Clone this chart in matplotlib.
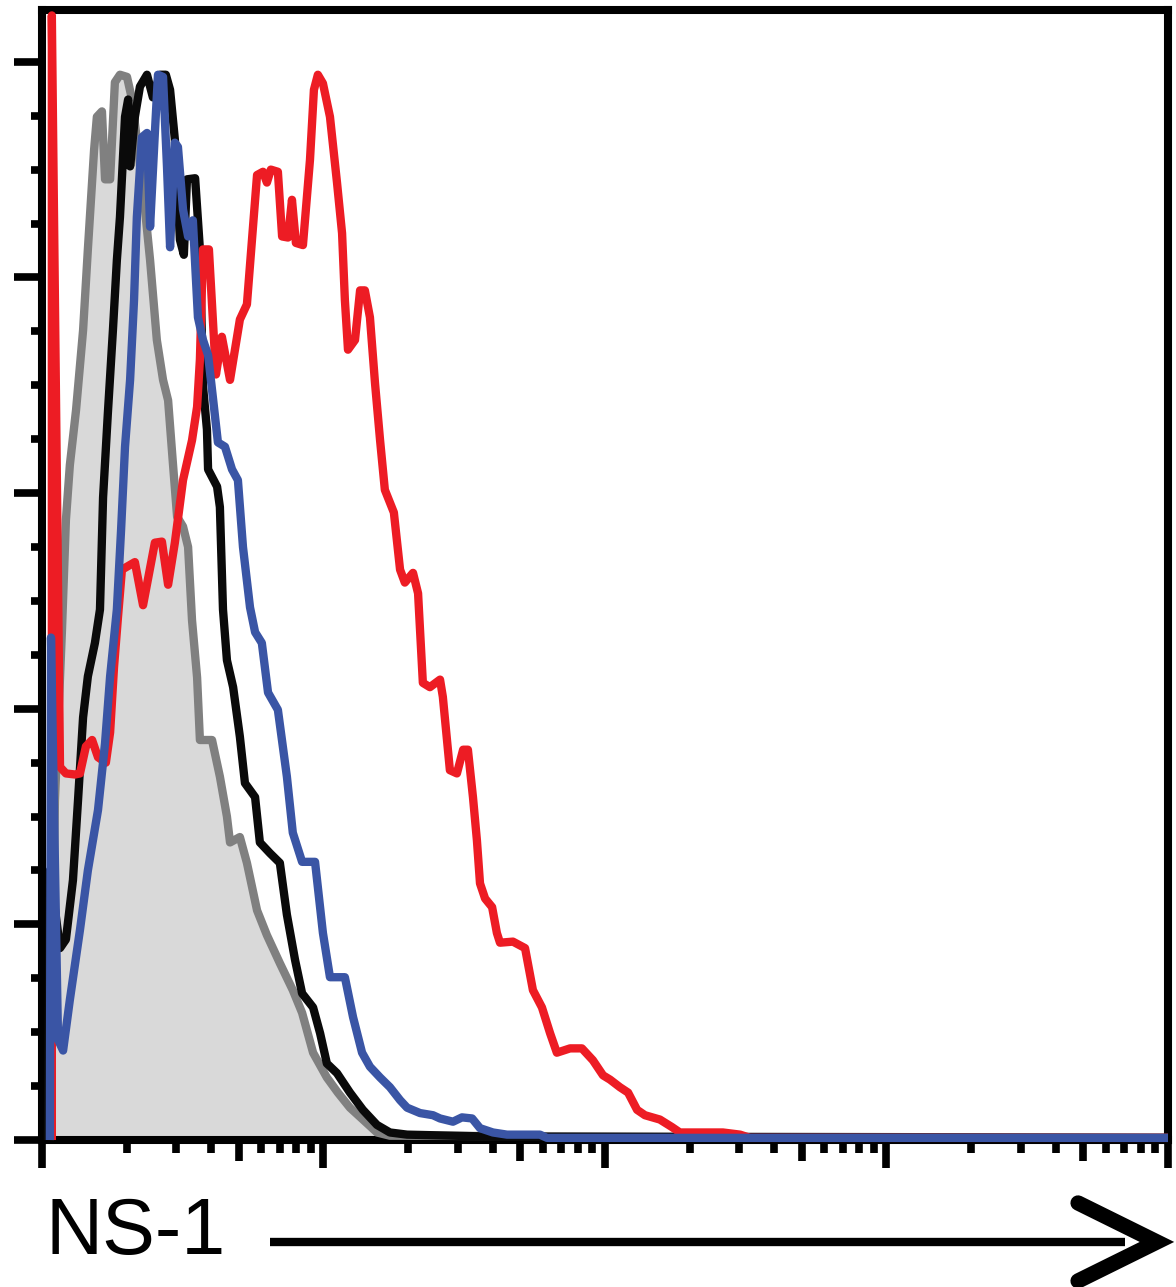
import matplotlib

matplotlib.use("Agg")
import matplotlib.pyplot as plt
import numpy as np
from matplotlib.lines import Line2D
from matplotlib.ticker import FixedLocator, NullFormatter, NullLocator

plt.rcParams["font.family"] = ["Liberation Sans", "DejaVu Sans"]

# NS-1 histograms: log10 fluorescence intensity vs % of max
gray_logx = [0.028, 0.046, 0.071, 0.085, 0.099, 0.121, 0.146, 0.163, 0.185, 0.195, 0.213,
             0.224, 0.242, 0.259, 0.277, 0.302, 0.320, 0.337, 0.359, 0.384, 0.408, 0.430,
             0.448, 0.465, 0.480, 0.501, 0.519, 0.533, 0.551, 0.561, 0.604, 0.632, 0.657,
             0.668, 0.703, 0.728, 0.764, 0.799, 0.845, 0.891, 0.924, 0.963, 1.012, 1.051,
             1.094, 1.140, 1.190, 1.236, 4.0]
gray_pct = [0.0, 31.5, 47.3, 57.5, 62.6, 67.7, 75.1, 82.6, 91.8, 94.9, 95.4,
            89.1, 89.1, 98.1, 98.8, 98.6, 96.5, 92.8, 88.1, 81.6, 74.2, 70.5,
            68.6, 62.8, 57.8, 56.9, 55.0, 48.2, 42.9, 37.1, 37.1, 33.7, 30.0,
            27.6, 28.1, 25.7, 21.3, 19.0, 16.4, 13.9, 11.8, 8.1, 5.8, 4.4,
            3.0, 1.9, 0.7, 0.4, 0.2]

black_logx = [0.021, 0.028, 0.064, 0.085, 0.110, 0.128, 0.146, 0.163, 0.188, 0.206, 0.217,
              0.234, 0.252, 0.266, 0.277, 0.295, 0.306, 0.313, 0.330, 0.348, 0.373, 0.394,
              0.419, 0.440, 0.455, 0.472, 0.490, 0.504, 0.515, 0.544, 0.561, 0.572, 0.586,
              0.590, 0.622, 0.632, 0.643, 0.657, 0.679, 0.703, 0.721, 0.757, 0.774, 0.810,
              0.845, 0.870, 0.899, 0.924, 0.963, 0.988, 1.012, 1.048, 1.094, 1.140, 1.190,
              1.236, 1.297, 1.627, 4.0]
black_pct = [0.0, 25.0, 17.8, 18.6, 24.1, 31.5, 39.2, 43.0, 46.1, 49.2, 59.6,
             67.4, 75.1, 81.6, 85.6, 94.9, 96.5, 90.3, 94.9, 97.7, 98.8, 96.7,
             98.8, 98.8, 97.4, 92.8, 83.5, 82.1, 89.1, 89.2, 82.6, 69.9, 65.9,
             62.2, 60.6, 58.7, 49.2, 44.5, 42.0, 37.4, 33.1, 31.8, 27.6, 26.6,
             25.7, 20.9, 16.7, 13.6, 12.3, 9.9, 7.1, 6.2, 4.4, 2.8, 1.4,
             0.7, 0.5, 0.3, 0.2]

red_logx = [0.035, 0.035, 0.064, 0.085, 0.117, 0.135, 0.156, 0.178, 0.199, 0.227, 0.242,
            0.256, 0.270, 0.284, 0.330, 0.359, 0.401, 0.426, 0.448, 0.472, 0.501, 0.533,
            0.551, 0.561, 0.572, 0.593, 0.618, 0.639, 0.668, 0.703, 0.728, 0.764, 0.785,
            0.799, 0.813, 0.838, 0.853, 0.874, 0.888, 0.902, 0.927, 0.952, 0.966, 0.980,
            0.998, 1.023, 1.048, 1.066, 1.076, 1.087, 1.112, 1.130, 1.147, 1.165, 1.183,
            1.201, 1.218, 1.250, 1.272, 1.289, 1.318, 1.336, 1.353, 1.378, 1.414, 1.424,
            1.449, 1.474, 1.496, 1.513, 1.531, 1.545, 1.556, 1.574, 1.599, 1.616, 1.627,
            1.673, 1.716, 1.744, 1.776, 1.805, 1.829, 1.876, 1.918, 1.957, 1.993, 2.018,
            2.053, 2.082, 2.114, 2.142, 2.195, 2.238, 2.266, 2.419, 2.480, 2.515, 4.0]
red_pct = [0.0, 104.3, 34.6, 34.0, 33.9, 34.0, 36.5, 37.1, 35.5, 35.0, 37.8,
           43.9, 48.5, 52.9, 53.6, 49.6, 55.4, 55.5, 51.5, 55.4, 61.2, 64.9,
           68.0, 72.4, 82.6, 82.6, 71.0, 74.5, 70.5, 76.1, 77.5, 89.5, 89.8,
           88.8, 90.0, 89.8, 83.8, 83.7, 87.2, 83.2, 83.0, 90.9, 97.4, 98.8,
           98.0, 94.9, 88.8, 84.1, 77.9, 73.3, 74.2, 78.8, 78.8, 76.3, 70.2,
           64.9, 60.3, 58.2, 52.9, 51.7, 52.6, 50.7, 42.4, 42.0, 42.7, 41.1,
           34.3, 34.0, 36.2, 36.2, 31.8, 27.8, 23.8, 22.4, 21.6, 19.2, 18.3,
           18.4, 17.8, 13.9, 12.3, 9.9, 8.1, 8.5, 8.5, 7.4, 6.0, 5.6,
           4.9, 4.4, 2.8, 2.3, 1.9, 1.2, 0.7, 0.7, 0.5, 0.2, 0.2]

blue_logx = [0.028, 0.032, 0.057, 0.075, 0.099, 0.135, 0.163, 0.199, 0.224, 0.242, 0.266,
             0.281, 0.295, 0.313, 0.327, 0.337, 0.355, 0.373, 0.384, 0.401, 0.412, 0.430,
             0.444, 0.455, 0.472, 0.483, 0.501, 0.519, 0.536, 0.554, 0.572, 0.590, 0.607,
             0.625, 0.650, 0.675, 0.696, 0.714, 0.739, 0.757, 0.781, 0.803, 0.838, 0.870,
             0.891, 0.924, 0.970, 0.998, 1.023, 1.076, 1.105, 1.137, 1.165, 1.201, 1.236,
             1.272, 1.297, 1.343, 1.389, 1.414, 1.460, 1.492, 1.528, 1.556, 1.602, 1.652,
             1.769, 1.794, 4.0]
blue_pct = [0.0, 46.6, 9.3, 8.3, 13.0, 19.5, 25.0, 30.6, 36.8, 43.0, 49.2,
            56.6, 64.3, 70.5, 77.9, 85.6, 93.0, 93.4, 84.7, 93.4, 98.8, 98.6,
            90.3, 82.8, 92.5, 92.1, 86.3, 83.8, 85.3, 76.3, 74.2, 72.8, 68.9,
            64.7, 64.3, 62.2, 61.2, 55.0, 49.4, 47.1, 46.1, 41.5, 39.9, 33.7,
            28.5, 25.8, 25.8, 19.2, 15.1, 15.1, 11.4, 8.1, 6.8, 5.8, 4.9,
            3.7, 3.0, 2.5, 2.3, 2.0, 1.7, 2.1, 2.0, 1.1, 0.7, 0.5,
            0.5, 0.2, 0.2]

y_major = [0, 20, 40, 60, 80, 100]
y_minor = [v for v in range(0, 101, 5) if v % 20]
x_major = [1, 10, 100, 1000, 10000]
x_mid = [5, 50, 500, 5000]
x_minor = [m * 10 ** d for d in range(4) for m in (2, 3, 4, 6, 7, 8, 9)]

LW = 6.0
SPINE_W = 5.8

fig = plt.figure(figsize=(11.76, 12.87), dpi=100)
ax = fig.add_axes([0.0357, 0.1142, 0.9575, 0.878])

ax.fill_between(10 ** np.array(gray_logx), gray_pct, 0, color="#d9d9d9", lw=0, zorder=1)
curves = [
    (gray_logx, gray_pct, "#808080"),
    (black_logx, black_pct, "#0a0a0a"),
    (red_logx, red_pct, "#ed1c24"),
    (blue_logx, blue_pct, "#3a55a5"),
]
for i, (lx, pct, color) in enumerate(curves):
    ax.plot(10 ** np.array(lx), pct, color=color, lw=LW, zorder=3 + i,
            clip_on=False, solid_capstyle="butt", solid_joinstyle="round")

ax.set_xscale("log")
ax.set_xlim(1, 10000)
ax.set_ylim(0, 104.8)

for side in ("left", "right", "top", "bottom"):
    ax.spines[side].set_linewidth(SPINE_W)
    ax.spines[side].set_color("black")

ax.yaxis.set_major_locator(FixedLocator(y_major))
ax.yaxis.set_minor_locator(FixedLocator(y_minor))
ax.xaxis.set_major_locator(FixedLocator(x_major))
ax.xaxis.set_minor_locator(FixedLocator(x_minor))
ax.xaxis.set_major_formatter(NullFormatter())
ax.xaxis.set_minor_formatter(NullFormatter())
ax.yaxis.set_major_formatter(NullFormatter())
ax.yaxis.set_minor_formatter(NullFormatter())
ax.tick_params(which="major", direction="out", length=20, width=5.5, color="black")
ax.tick_params(which="minor", direction="out", length=8, width=5.5, color="black")
ax.tick_params(axis="x", which="minor", length=9)
ax.tick_params(right=False, top=False)

sec = ax.secondary_xaxis("bottom")
sec.xaxis.set_major_locator(FixedLocator(x_mid))
sec.xaxis.set_minor_locator(NullLocator())
sec.xaxis.set_major_formatter(NullFormatter())
sec.tick_params(which="major", direction="out", length=15, width=5.5, color="black")
sec.spines["bottom"].set_visible(False)

# axis label with long arrow
fig.text(0.039, 0.0255, "NS-1", fontsize=57, ha="left", va="baseline", color="black")
fig.add_artist(Line2D([270 / 1176, 1125 / 1176], [0.035, 0.035], lw=6, color="black",
                      solid_capstyle="butt", transform=fig.transFigure))
fig.add_artist(Line2D([0.9167, 0.9838, 0.9167], [0.0653, 0.035, 0.0047], lw=11, color="black",
                      solid_capstyle="round", solid_joinstyle="miter", transform=fig.transFigure))

fig.savefig("out.png", dpi=100)
